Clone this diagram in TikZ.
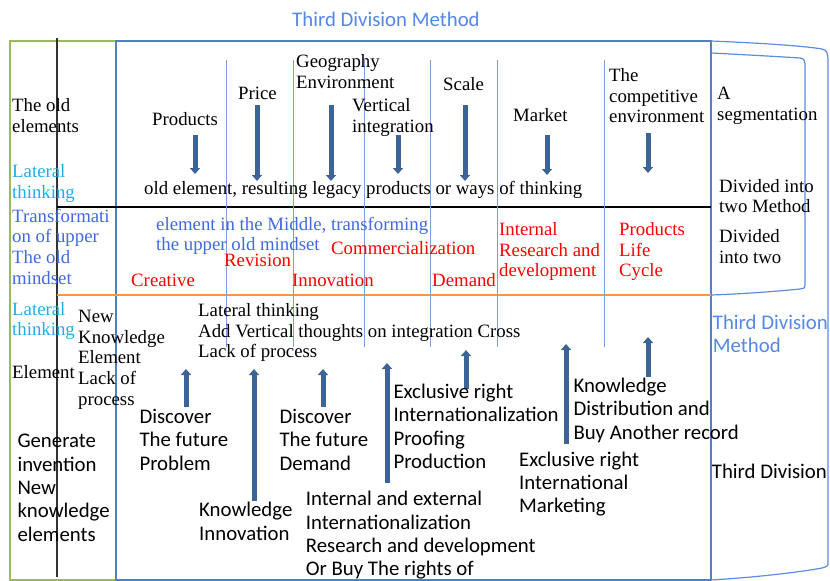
\documentclass[tikz,border=0pt]{standalone}
\usepackage{fontspec}
\setmainfont{Liberation Serif}
\newfontfamily\calfont{Carlito}
\usetikzlibrary{arrows.meta}
\definecolor{boxgreen}{RGB}{155,187,89}
\definecolor{boxblue}{RGB}{79,129,189}
\definecolor{thinblue}{RGB}{125,160,210}
\definecolor{brackblue}{RGB}{90,140,225}
\definecolor{lineorange}{RGB}{247,150,70}
\definecolor{arrowblue}{RGB}{60,100,150}
\definecolor{titleblue}{RGB}{85,135,230}
\definecolor{cyantext}{RGB}{30,175,235}
\definecolor{midblue}{RGB}{65,105,225}
\definecolor{redtext}{RGB}{255,0,0}
\tikzset{
  serif/.style={font=\fontsize{18.8}{20.6}\selectfont, anchor=base west, align=left, inner sep=0pt},
  sans/.style={font=\calfont\fontsize{20.8}{23.3}\selectfont, anchor=base west, align=left, inner sep=0pt},
  bigarrow/.style={draw=arrowblue, line width=5pt, -{Triangle[width=10pt,length=6pt]}},
  thinsep/.style={draw=thinblue, line width=1pt},
  bracket/.style={draw=brackblue, line width=1.2pt}
}
\begin{document}
\begin{tikzpicture}[x=1pt,y=-1pt]
\useasboundingbox (0,0) rectangle (830,581);
% frames
\draw[boxgreen, line width=2pt] (10,41) rectangle (116,580);
\draw[boxblue, line width=2pt] (116,41) rectangle (711,580);
\draw[black!80, line width=1.5pt] (57,38) -- (57,577);
\draw[black, line width=2pt] (57,207) -- (711,207);
\draw[lineorange, line width=2.5pt] (57,295) -- (711,295);
\foreach \xx in {226,293,364,430,497,604} \draw[thinsep] (\xx,60) -- (\xx,347);
% brackets
\draw[bracket] (711,41) .. controls (760,43) and (805,46) .. (822,49) .. controls (827,51) .. (828,58) -- (828,562) .. controls (828,566) .. (822,568) .. controls (800,572) and (760,577) .. (711,580);
\draw[bracket] (711,53) .. controls (750,55) and (785,57) .. (800,58) .. controls (804,59) .. (805,64) -- (805,285) .. controls (805,288) .. (800,289) .. controls (770,292) and (740,294) .. (711,295);
% down arrows
\coordinate (d1s) at (195,135); \coordinate (d1e) at (195,174);
\coordinate (d2s) at (257,105); \coordinate (d2e) at (257,181);
\coordinate (d3s) at (331,105); \coordinate (d3e) at (331,181);
\coordinate (d4s) at (398,135); \coordinate (d4e) at (398,174);
\coordinate (d5s) at (465,105); \coordinate (d5e) at (465,181);
\coordinate (d6s) at (547,135); \coordinate (d6e) at (547,175);
\coordinate (d7s) at (648,133); \coordinate (d7e) at (648,173);
\foreach \i in {1,...,7} \draw[bigarrow] (d\i s) -- (d\i e);
% up arrows
\coordinate (u1s) at (186,407); \coordinate (u1e) at (186,369);
\coordinate (u2s) at (254,501); \coordinate (u2e) at (254,369);
\coordinate (u3s) at (323,407); \coordinate (u3e) at (323,369);
\coordinate (u4s) at (387,483); \coordinate (u4e) at (387,363);
\coordinate (u5s) at (466,389); \coordinate (u5e) at (466,350);
\coordinate (u6s) at (566,444); \coordinate (u6e) at (566,344);
\coordinate (u7s) at (648,377); \coordinate (u7e) at (648,337);
\foreach \i in {1,...,7} \draw[bigarrow] (u\i s) -- (u\i e);
% title
\node[sans, text=titleblue] (title) at (292,26.7) {Third Division Method};
% top section (anchor = baseline of last line)
\node[serif] (oldel) at (12,132) {The old\\elements};
\node[serif] (prod) at (152,125) {Products};
\node[serif] (price) at (238,99) {Price};
\node[serif] (geo) at (296,88.5) {Geography\\Environment};
\node[serif] (vert) at (352,132) {Vertical\\integration};
\node[serif] (scale) at (443,90.7) {Scale};
\node[serif] (market) at (513,121.7) {Market};
\node[serif] (comp) at (609,122.7) {The\\competitive\\environment};
\node[serif] (aseg) at (717,120) {A\\segmentation};
\node[serif] (legacy) at (144,194) {old element, resulting legacy products or ways of thinking};
\node[serif] (div1) at (719,212.7) {Divided into\\two Method};
\node[serif] (div2) at (719,263.3) {Divided\\into two};
\node[serif, text=cyantext] (lat1) at (12,198) {Lateral\\thinking};
% middle section
\node[serif, text=midblue] (transf) at (12,284) {Transformati\\on of upper\\The old\\mindset};
\node[serif, text=midblue] (middle) at (156,250.7) {element in the Middle, transforming\\the upper old mindset};
\node[serif, text=redtext] (comm) at (331,254) {Commercialization};
\node[serif, text=redtext] (rev) at (224,266.7) {Revision};
\node[serif, text=redtext] (creat) at (131,286) {Creative};
\node[serif, text=redtext] (innov) at (292,286) {Innovation};
\node[serif, text=redtext] (demand) at (432,286) {Demand};
\node[serif, text=redtext] (intrd) at (499,276.7) {Internal\\Research and\\development};
\node[serif, text=redtext] (plc) at (619,276.7) {Products\\Life\\Cycle};
% bottom section
\node[serif, text=cyantext] (lat2) at (12,335.7) {Lateral\\thinking};
\node[serif] (elem) at (12,378.3) {Element};
\node[serif] (newk) at (78,405) {New\\Knowledge\\Element\\Lack of\\process};
\node[serif] (latadd) at (198,357.7) {Lateral thinking\\Add Vertical thoughts on integration Cross\\Lack of process};
\node[sans] (gen) at (17.3,541) {Generate\\invention\\New\\knowledge\\elements};
\node[sans] (disc1) at (139.3,470) {Discover\\The future\\Problem};
\node[sans] (disc2) at (279.3,470) {Discover\\The future\\Demand};
\node[sans] (kinn) at (199,540) {Knowledge\\Innovation};
\node[sans] (intext) at (305.7,575.7) {Internal and external\\Internationalization\\Research and development\\Or Buy The rights of};
\node[sans] (excl1) at (393.3,468.3) {Exclusive right\\Internationalization\\Proofing\\Production};
\node[sans] (kdist) at (573.3,439) {Knowledge\\Distribution and\\Buy Another record};
\node[sans] (excl2) at (519,512.7) {Exclusive right\\International\\Marketing};
\node[sans, text=titleblue] (tdm) at (712.7,352.7) {Third Division\\Method};
\node[sans] (td) at (711.7,478.3) {Third Division};
\end{tikzpicture}
\end{document}
